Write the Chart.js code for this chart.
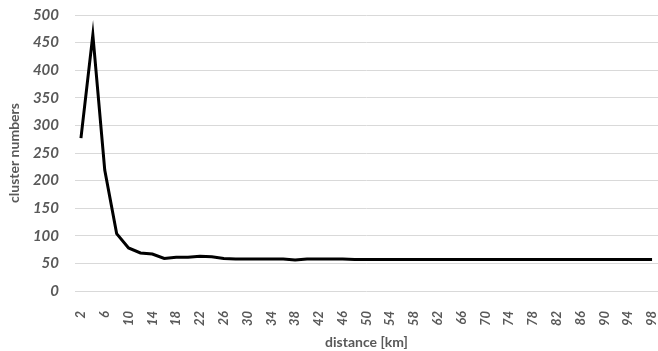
<!DOCTYPE html>
<html>
<head>
<meta charset="utf-8">
<script src="https://cdn.jsdelivr.net/npm/chart.js@4"></script>
<style>
  html, body { margin: 0; padding: 0; background: #fff; }
  #wrap { width: 658px; height: 351px; }
</style>
</head>
<body>
<div id="wrap"><canvas id="clusterChart" width="658" height="351"></canvas></div>
<script>
// distance categories in km (every other one gets a label)
const distances = [2, 4, 6, 8, 10, 12, 14, 16, 18, 20, 22, 24, 26, 28, 30, 32, 34, 36, 38, 40, 42, 44, 46, 48,
    50, 52, 54, 56, 58, 60, 62, 64, 66, 68, 70, 72, 74, 76, 78, 80, 82, 84, 86, 88, 90, 92, 94, 96, 98];

// cluster numbers
const clusterNumbers = [277, 464, 219, 104, 78, 69, 67, 59, 61, 61, 63, 62, 59, 58, 58, 58, 58, 58, 56, 58, 58, 58, 58, 57,
    57, 57, 57, 57, 57, 57, 57, 57, 57, 57, 57, 57, 57, 57, 57, 57, 57, 57, 57, 57, 57, 57, 57, 57, 57];

const yTicks = [0, 50, 100, 150, 200, 250, 300, 350, 400, 450, 500];

const textGray = '#595959';

const ctx = document.getElementById('clusterChart').getContext('2d');
const clusterChart = new Chart(ctx, {
    type: 'line',
    data: {
        labels: distances,
        datasets: [{
            label: 'cluster numbers',
            data: clusterNumbers,
            borderColor: '#000000',
            borderWidth: 3,
            pointRadius: 0,
            fill: false,
            tension: 0
        }]
    },
    options: {
        responsive: false,
        animation: false,
        layout: {
            padding: { top: 0, right: 0, left: 6, bottom: 0 }
        },
        plugins: {
            legend: { display: false },
            tooltip: { enabled: false }
        },
        scales: {
            x: {
                offset: true,
                grid: { display: false },
                border: { display: false },
                afterFit: scale => {
                    // let the plot run to the right edge like the original
                    scale.paddingRight = 0;
                    scale.height = 60;
                },
                ticks: {
                    autoSkip: false,
                    maxRotation: 90,
                    minRotation: 90,
                    color: textGray,
                    padding: 12,
                    font: { family: 'Lato', size: 13, weight: 'bold', style: 'italic' },
                    callback: function (value, index) {
                        return index % 2 === 0 ? this.getLabelForValue(value) : '';
                    }
                },
                title: {
                    display: true,
                    text: 'distance [km]',
                    color: textGray,
                    padding: { top: 4, bottom: 0 },
                    font: { family: 'Lato', size: 14, weight: 'bold' }
                }
            },
            y: {
                min: 0,
                max: 500,
                afterBuildTicks: axis => {
                    axis.ticks = yTicks.map(v => ({ value: v }));
                },
                afterFit: scale => {
                    scale.width = 69;
                    scale.paddingTop = 15;
                },
                grid: {
                    color: '#d9d9d9',
                    lineWidth: 1,
                    drawTicks: false
                },
                border: { display: false },
                ticks: {
                    color: textGray,
                    padding: 16,
                    font: { family: 'Lato', size: 15, weight: 'bold', style: 'italic' }
                },
                title: {
                    display: true,
                    text: 'cluster numbers',
                    color: textGray,
                    padding: { top: 0, bottom: 2 },
                    font: { family: 'Lato', size: 14, weight: 'bold' }
                }
            }
        }
    }
});
</script>
</body>
</html>
